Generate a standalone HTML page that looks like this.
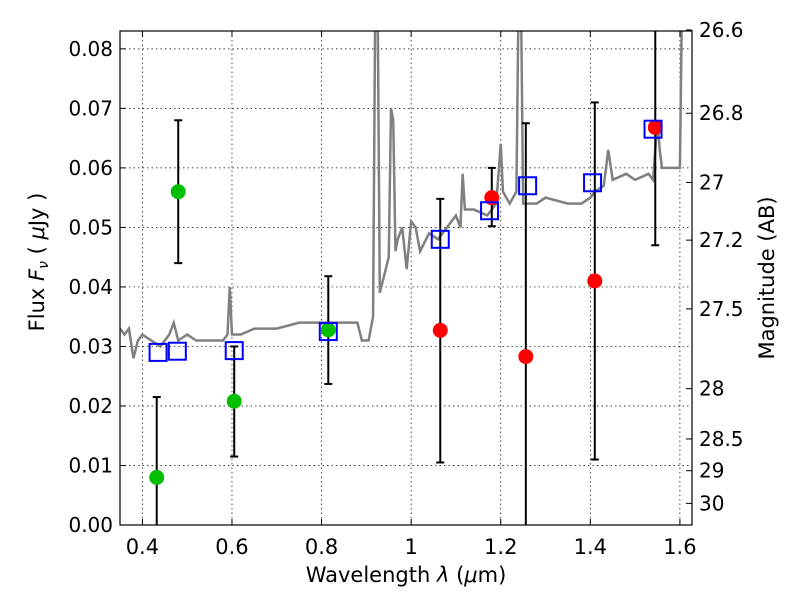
<!DOCTYPE html>
<html><head><meta charset="utf-8"><style>
body{margin:0;background:#fff;}
svg{display:block;font-family:"DejaVu Sans","Liberation Sans",sans-serif;}
</style></head><body>
<svg id="chart" width="800" height="600" viewBox="0 0 800 600" xmlns="http://www.w3.org/2000/svg"></svg>
<script>
const xTicks=[0.4,0.6,0.8,1.0,1.2,1.4,1.6];
const xTickLabels=["0.4","0.6","0.8","1","1.2","1.4","1.6"];
const yTicks=[0,0.01,0.02,0.03,0.04,0.05,0.06,0.07,0.08];
const yTickLabels=["0.00","0.01","0.02","0.03","0.04","0.05","0.06","0.07","0.08"];
const magTicks=[26.6,26.8,27,27.2,27.5,28,28.5,29,30];
const magTickLabels=["26.6","26.8","27","27.2","27.5","28","28.5","29","30"];
const greenX=[0.432,0.48,0.605,0.815];
const greenY=[0.008,0.056,0.0208,0.0328];
const greenLo=[-0.01,0.044,0.0115,0.0237];
const greenHi=[0.0215,0.068,0.030,0.0418];
const redX=[1.065,1.18,1.256,1.41,1.545];
const redY=[0.0327,0.055,0.0283,0.041,0.0668];
const redLo=[0.0105,0.0502,-0.01,0.011,0.047];
const redHi=[0.0548,0.060,0.0675,0.071,0.09];
const sqX=[0.435,0.478,0.605,0.815,1.065,1.175,1.26,1.405,1.54];
const sqY=[0.029,0.0292,0.0293,0.0325,0.048,0.0528,0.057,0.0575,0.0665];
const specX=[0.35,0.36,0.37,0.38,0.39,0.40,0.42,0.44,0.46,0.47,0.48,0.50,0.52,0.55,0.58,0.59,0.595,0.60,0.62,0.65,0.70,0.75,0.80,0.85,0.88,0.89,0.905,0.915,0.92,0.925,0.93,0.94,0.95,0.955,0.96,0.965,0.97,0.98,0.99,1.0,1.01,1.02,1.04,1.06,1.08,1.10,1.11,1.115,1.12,1.14,1.17,1.19,1.20,1.205,1.22,1.235,1.24,1.245,1.25,1.28,1.30,1.35,1.38,1.40,1.41,1.43,1.44,1.45,1.48,1.50,1.53,1.54,1.55,1.555,1.56,1.60,1.605,1.61];
const specY=[0.033,0.032,0.033,0.028,0.031,0.032,0.031,0.030,0.032,0.034,0.031,0.032,0.031,0.031,0.031,0.032,0.040,0.032,0.032,0.033,0.033,0.034,0.034,0.034,0.034,0.031,0.031,0.035,0.09,0.09,0.039,0.042,0.045,0.070,0.068,0.046,0.048,0.050,0.043,0.051,0.050,0.046,0.049,0.048,0.050,0.052,0.050,0.059,0.053,0.053,0.052,0.054,0.064,0.056,0.054,0.056,0.09,0.09,0.054,0.054,0.055,0.054,0.054,0.055,0.056,0.057,0.063,0.058,0.059,0.058,0.059,0.058,0.068,0.063,0.060,0.060,0.09,0.09];

const L=120,R=692,T=31,B=525,XMIN=0.35,XMAX=1.627,YMIN=0,YMAX=0.083;
const sx=v=>L+(v-XMIN)/(XMAX-XMIN)*(R-L);
const sy=v=>B-(v-YMIN)/(YMAX-YMIN)*(B-T);
const magToFlux=m=>Math.pow(10,(23.9-m)/2.5);
const svg=document.getElementById('chart');
const NS='http://www.w3.org/2000/svg';
function mk(tag,attrs,parent){const e=document.createElementNS(NS,tag);for(const k in attrs)e.setAttribute(k,attrs[k]);(parent||svg).appendChild(e);return e;}

const defs=mk('defs',{});
const cp=mk('clipPath',{id:'plotclip'},defs);
mk('rect',{x:L,y:T,width:R-L,height:B-T},cp);

const grid=mk('g',{});


xTicks.forEach(v=>{mk('line',{x1:sx(v),x2:sx(v),y1:T,y2:B,stroke:'#000','stroke-width':0.7,'stroke-dasharray':'1.5,3'},grid);});
yTicks.forEach(v=>{mk('line',{x1:L,x2:R,y1:sy(v),y2:sy(v),stroke:'#000','stroke-width':0.7,'stroke-dasharray':'1.5,3'},grid);});

const plot=mk('g',{'clip-path':'url(#plotclip)'});
const spec=mk('polyline',{points:specX.map((x,i)=>sx(x)+','+sy(specY[i])).join(' '),fill:'none',stroke:'#808080','stroke-width':2.5},plot);



function errs(X,Y,Lo,Hi,color,name){
  X.forEach((x,i)=>{
    const g=mk('g',{},plot);
    
    
    const px=sx(x);
    mk('line',{x1:px,x2:px,y1:sy(Lo[i]),y2:sy(Hi[i]),stroke:'#000','stroke-width':2},g);
    mk('line',{x1:px-4,x2:px+4,y1:sy(Lo[i]),y2:sy(Lo[i]),stroke:'#000','stroke-width':2},g);
    mk('line',{x1:px-4,x2:px+4,y1:sy(Hi[i]),y2:sy(Hi[i]),stroke:'#000','stroke-width':2},g);
    mk('circle',{cx:px,cy:sy(Y[i]),r:7.5,fill:color},g);
  });
}
errs(greenX,greenY,greenLo,greenHi,'#00bf00','green-point');
errs(redX,redY,redLo,redHi,'#ff0000','red-point');
sqX.forEach((x,i)=>{
  const r=mk('rect',{x:sx(x)-8.5,y:sy(sqY[i])-8.5,width:17,height:17,fill:'none',stroke:'#0000ff','stroke-width':2},plot);
  
  
});

const frame=mk('rect',{x:L,y:T,width:R-L,height:B-T,fill:'none',stroke:'#000','stroke-width':1.2});



const xa=mk('g',{});


xTicks.forEach((v,i)=>{
  mk('line',{x1:sx(v),x2:sx(v),y1:B,y2:B-6,stroke:'#000'},xa);
  mk('line',{x1:sx(v),x2:sx(v),y1:T,y2:T+6,stroke:'#000'},xa);
  const t=mk('text',{x:sx(v),y:B+29,'font-size':21,'text-anchor':'middle'},xa);t.textContent=xTickLabels[i];
});
const ya=mk('g',{});


yTicks.forEach((v,i)=>{
  mk('line',{x1:L,x2:L+6,y1:sy(v),y2:sy(v),stroke:'#000'},ya);
  const t=mk('text',{x:L-7,y:sy(v)+7,'font-size':20,'text-anchor':'end'},ya);t.textContent=yTickLabels[i];
});
const ra=mk('g',{});


magTicks.forEach((m,i)=>{
  const y=sy(magToFlux(m));
  mk('line',{x1:R,x2:R-6,y1:y,y2:y,stroke:'#000'},ra);
  const t=mk('text',{x:R+7,y:y+7,'font-size':20},ra);t.textContent=magTickLabels[i];
});
const xt=mk('text',{x:406,y:582,'font-size':21,'text-anchor':'middle'});


xt.innerHTML='Wavelength  <tspan font-style="italic">λ</tspan> (<tspan font-style="italic">μ</tspan>m)';
const yt=mk('text',{x:0,y:0,'font-size':21,'text-anchor':'middle',transform:'translate(44,262) rotate(-90)'});


yt.innerHTML='Flux  <tspan font-style="italic">F</tspan><tspan font-style="italic" font-size="14" dy="4">ν</tspan><tspan dy="-4">  (  </tspan><tspan font-style="italic">μ</tspan>Jy )';
const rt=mk('text',{x:0,y:0,'font-size':21,'text-anchor':'middle',transform:'translate(774,278) rotate(-90)'});


rt.textContent='Magnitude (AB)';
</script>
</body></html>
